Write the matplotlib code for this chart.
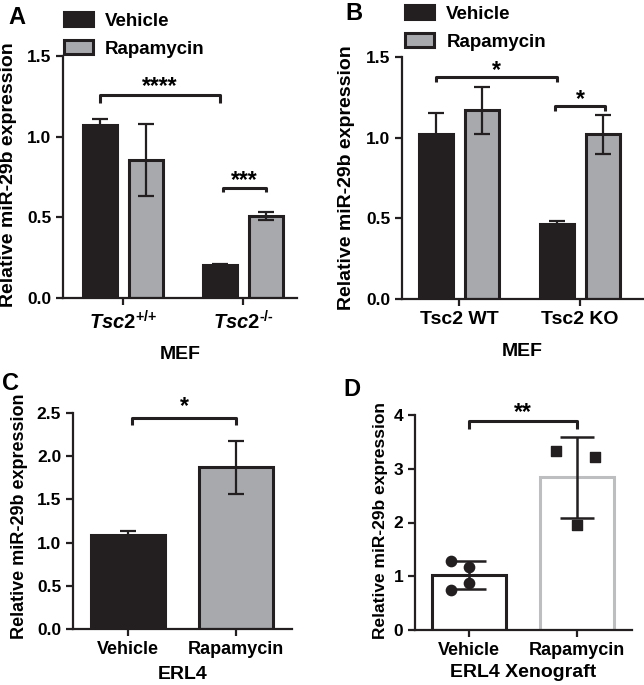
import matplotlib
matplotlib.use('Agg')
import matplotlib.pyplot as plt
import numpy as np

plt.rcParams['font.family'] = ['Liberation Sans', 'DejaVu Sans']
plt.rcParams['font.weight'] = 'bold'
plt.rcParams['mathtext.fontset'] = 'custom'
plt.rcParams['mathtext.rm'] = 'Liberation Sans:bold'
plt.rcParams['mathtext.it'] = 'Liberation Sans:italic:bold'
plt.rcParams['mathtext.bf'] = 'Liberation Sans:bold'

# Panel A data
a_groups = [r'$\mathit{Tsc2}^{\text{+/+}}$', r'$\mathit{Tsc2}^{\text{-/-}}$']
a_vehicle = [1.07, 0.205]
a_vehicle_err = [0.04, 0.008]
a_rapa = [0.855, 0.51]
a_rapa_err = [0.225, 0.024]

# Panel B data
b_groups = ['Tsc2 WT', 'Tsc2 KO']
b_vehicle = [1.025, 0.465]
b_vehicle_err = [0.13, 0.02]
b_rapa = [1.17, 1.02]
b_rapa_err = [0.145, 0.12]

# Panel C data
c_groups = ['Vehicle', 'Rapamycin']
c_means = [1.085, 1.87]
c_err = [0.055, 0.31]

# Panel D data
d_groups = ['Vehicle', 'Rapamycin']
d_means = [1.02, 2.84]
d_err = [0.26, 0.76]
d_vehicle_pts = [1.28, 1.17, 0.88, 0.74]
d_vehicle_dx = [-0.17, 0.0, 0.0, -0.17]
d_rapa_pts = [3.33, 3.21, 1.95]
d_rapa_dx = [-0.19, 0.17, 0.0]

BLACK = '#231f20'
GRAY = '#a7a9ac'
LGRAY = '#bcbec0'
W, H = 644, 685

fig = plt.figure(figsize=(W / 100, H / 100), dpi=100)


def px_axes(left, right, top, bottom):
    return fig.add_axes([left / W, 1 - bottom / H, (right - left) / W, (bottom - top) / H])


def style(ax, ylabel, fs_lab):
    for s in ['top', 'right']:
        ax.spines[s].set_visible(False)
    for s in ['left', 'bottom']:
        ax.spines[s].set_linewidth(1.6)
        ax.spines[s].set_color(BLACK)
    ax.tick_params(width=1.6, length=5, color=BLACK)
    ax.tick_params(axis='y', labelsize=12.5)
    for lbl in ax.get_xticklabels() + ax.get_yticklabels():
        lbl.set_fontweight('bold')
    ax.set_ylabel(ylabel, fontsize=fs_lab, fontweight='bold')


def bracket(ax, x1, x2, y, drop, txt, fs=16.5, gap=0.0):
    ax.plot([x1, x1, x2, x2], [y - drop, y, y, y - drop], color=BLACK, lw=2.2,
            solid_capstyle='butt', clip_on=False)
    ax.text((x1 + x2) / 2, y + gap, txt, ha='center', va='bottom', fontsize=fs,
            fontweight='bold', clip_on=False)


err_kw = dict(ecolor=BLACK, elinewidth=1.6, capsize=5.5, capthick=1.6)
ylab = 'Relative miR-29b expression'
leg_kw = dict(loc='upper left', bbox_transform=fig.transFigure, frameon=False,
              fontsize=13.5, handlelength=1.55, handleheight=0.8, labelspacing=0.55,
              handletextpad=0.65, borderaxespad=0, borderpad=0)

# ---- Panel A
ax = px_axes(63, 297, 56, 298)
x = np.arange(2)
off, bw = 0.19, 0.28
ax.bar(x - off, a_vehicle, bw, yerr=a_vehicle_err, color=BLACK, edgecolor=BLACK,
       linewidth=2.2, error_kw=err_kw, label='Vehicle')
ax.bar(x + off, a_rapa, bw, yerr=a_rapa_err, color=GRAY, edgecolor=BLACK,
       linewidth=2.2, error_kw=err_kw, label='Rapamycin')
ax.set_xlim(-0.5, 1.45)
ax.set_ylim(0, 1.5)
ax.set_yticks([0, 0.5, 1.0, 1.5])
ax.set_xticks(x)
ax.set_xticklabels(a_groups, fontsize=14.5)
style(ax, ylab, 14)
ax.set_xlabel('MEF', fontsize=14, fontweight='bold', labelpad=9)
ax.yaxis.set_label_coords(-0.197, 0.51)
bracket(ax, -off, 1 - off, 1.258, 0.05, '****', gap=-0.02)
bracket(ax, 1 - off + 0.02, 1 + off, 0.679, 0.022, '***', gap=-0.02)
ax.legend(bbox_to_anchor=(64 / W, 1 - 12 / H), **leg_kw)
fig.text(8 / W, 1 - 18 / H, 'A', fontsize=17, fontweight='bold', va='center')

# ---- Panel B
ax = px_axes(402, 643, 57, 299)
ax.bar(x - off, b_vehicle, bw, yerr=b_vehicle_err, color=BLACK, edgecolor=BLACK,
       linewidth=2.2, error_kw=err_kw, label='Vehicle')
ax.bar(x + off, b_rapa, bw, yerr=b_rapa_err, color=GRAY, edgecolor=BLACK,
       linewidth=2.2, error_kw=err_kw, label='Rapamycin')
ax.set_xlim(-0.47, 1.52)
ax.set_ylim(0, 1.5)
ax.set_yticks([0, 0.5, 1.0, 1.5])
ax.set_xticks(x)
ax.set_xticklabels(b_groups, fontsize=14)
style(ax, ylab, 14)
ax.set_xlabel('MEF', fontsize=14, fontweight='bold', labelpad=11)
ax.yaxis.set_label_coords(-0.195, 0.5)
bracket(ax, -off, 1 - off, 1.376, 0.03, '*', gap=-0.03)
bracket(ax, 1 - off - 0.02, 1 + off + 0.02, 1.195, 0.032, '*', gap=-0.03)
ax.legend(bbox_to_anchor=(405 / W, 1 - 5 / H), **leg_kw)
fig.text(345 / W, 1 - 14 / H, 'B', fontsize=17, fontweight='bold', va='center')

# ---- Panel C
ax = px_axes(73, 292, 413, 629)
bw2 = 0.68
ax.bar(x[0], c_means[0], bw2, yerr=c_err[0], color=BLACK, edgecolor=BLACK,
       linewidth=2.2, error_kw=err_kw)
ax.bar(x[1], c_means[1], bw2, yerr=c_err[1], color=GRAY, edgecolor=BLACK,
       linewidth=2.2, error_kw=err_kw)
ax.set_xlim(-0.51, 1.52)
ax.set_ylim(0, 2.5)
ax.set_yticks([0, 0.5, 1.0, 1.5, 2.0, 2.5])
ax.set_xticks(x)
ax.set_xticklabels(c_groups, fontsize=13)
style(ax, ylab, 13)
ax.set_xlabel('ERL4', fontsize=14, fontweight='bold', labelpad=6)
ax.yaxis.set_label_coords(-0.205, 0.52)
bracket(ax, 0.04, 1.0, 2.442, 0.085, '*', gap=0.0)
fig.text(2 / W, 1 - 383 / H, 'C', fontsize=17, fontweight='bold', va='center')

# ---- Panel D
ax = px_axes(415, 632, 415, 630)
ax.bar(x[0], d_means[0], bw2, color='white', edgecolor=BLACK, linewidth=2.2)
ax.bar(x[1], d_means[1], bw2, color='white', edgecolor=LGRAY, linewidth=2.2)
ax.errorbar(x, d_means, yerr=d_err, fmt='none', ecolor=BLACK, elinewidth=1.8,
            capsize=12, capthick=1.8, zorder=4)
ax.scatter(x[0] + np.array(d_vehicle_dx), d_vehicle_pts, s=55, marker='o', color=BLACK, zorder=5)
ax.scatter(x[1] + np.array(d_rapa_dx), d_rapa_pts, s=55, marker='s', color=BLACK, zorder=5)
ax.set_xlim(-0.5, 1.51)
ax.set_ylim(0, 4)
ax.set_yticks([0, 1, 2, 3, 4])
ax.set_xticks(x)
ax.set_xticklabels(d_groups, fontsize=13)
style(ax, ylab, 12.5)
ax.set_xlabel('ERL4 Xenograft', fontsize=14, fontweight='bold', labelpad=4)
ax.yaxis.set_label_coords(-0.124, 0.51)
bracket(ax, 0.0, 1.0, 3.888, 0.15, '**', gap=-0.06)
fig.text(343 / W, 1 - 390 / H, 'D', fontsize=17, fontweight='bold', va='center')

fig.savefig('out.png', dpi=100)
